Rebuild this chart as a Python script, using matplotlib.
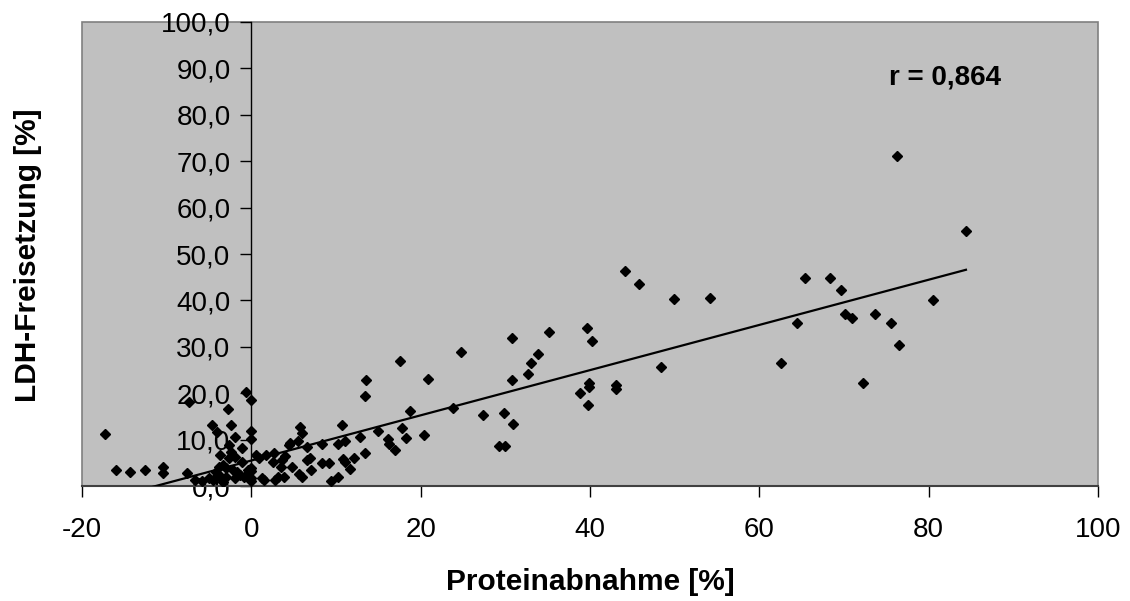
import numpy as np
import matplotlib.pyplot as plt
from matplotlib.ticker import FuncFormatter

plt.rcParams['font.family'] = ['Liberation Sans', 'DejaVu Sans']
plt.rcParams['axes.unicode_minus'] = False

# Protein decrease [%] vs. LDH release [%]
protein = [84.4, 80.5, 76.2, 76.5, 75.6, 73.6, 72.2, 71.0, 70.1, 69.7, 68.3, 65.4,
           64.4, 62.5, 54.2, 49.9, 48.4, 45.8, 44.1, 43.1, 43.1, 40.2, 39.9, 39.9,
           39.8, 39.6, 38.8, 35.2, 33.8, 33.0, 32.7, 30.8, 30.8, 30.9, 30.0, 29.2,
           29.8, 27.4, 24.8, 23.8, 20.9, 20.4, 18.7, 18.3, 17.8, 17.6, 17.0, 16.3,
           16.1, 15.0, 13.5, 13.4, 13.4, 12.8, 12.1, 11.7, 11.0, 11.0, 10.8, 10.7,
           10.2, 10.2, 9.4, 9.2, 8.4, 8.4, 7.1, 6.9, 6.6, 6.6, 6.0, 6.0,
           5.7, 5.6, 5.5, 4.8, 4.6, 4.4, 4.0, 3.9, 3.6, 3.5, 3.1, 2.8,
           2.7, 2.5, 1.7, 1.5, 1.2, 0.9, 0.5, 0.0, 0.0, 0.0, 0.0, 0.0,
           0.0, -0.1, -0.4, -0.6, -0.9, -1.1, -1.1, -1.3, -1.7, -1.9, -1.9, -1.9,
           -2.2, -2.4, -2.4, -2.6, -2.6, -2.8, -3.0, -3.0, -3.4, -3.4, -3.6, -3.7,
           -3.8, -4.1, -4.2, -4.5, -4.7, -5.0, -5.8, -6.6, -7.4, -7.6, -10.4, -10.4,
           -12.6, -14.3, -16.0, -17.3]
ldh = [55.0, 40.0, 71.2, 30.4, 35.2, 37.0, 22.1, 36.2, 37.0, 42.3, 44.8, 44.8,
       35.2, 26.6, 40.5, 40.3, 25.6, 43.5, 46.3, 21.7, 21.0, 31.2, 22.1, 21.3,
       17.5, 34.0, 20.0, 33.3, 28.4, 26.6, 24.1, 32.0, 22.8, 13.4, 8.6, 8.6,
       15.8, 15.2, 28.9, 16.8, 23.1, 11.1, 16.2, 10.4, 12.4, 26.9, 7.7, 9.1,
       10.2, 11.9, 22.8, 19.5, 7.1, 10.6, 6.0, 3.6, 9.7, 5.2, 5.8, 13.1,
       9.0, 2.0, 1.1, 4.9, 9.0, 5.0, 3.4, 6.1, 8.5, 5.6, 11.4, 2.0,
       12.8, 2.5, 9.7, 4.0, 9.3, 8.8, 6.5, 2.0, 5.6, 4.2, 2.0, 1.3,
       7.2, 5.2, 6.7, 1.3, 1.7, 6.0, 6.7, 18.5, 11.9, 10.2, 3.9, 3.2,
       1.7, 1.0, 3.4, 20.3, 2.0, 8.1, 5.2, 2.4, 3.1, 10.5, 6.3, 1.7,
       3.4, 13.1, 7.4, 8.8, 6.0, 16.7, 3.8, 2.0, 4.5, 0.9, 2.0, 6.7,
       4.2, 11.7, 3.1, 1.3, 13.1, 1.7, 1.1, 1.4, 18.1, 2.9, 4.2, 2.9,
       3.4, 3.1, 3.4, 11.2]

# linear trend line (as drawn in the original chart)
trend_slope = 0.487
trend_intercept = 5.5
r_text = 'r = 0,864'

x_ticks = [-20, 0, 20, 40, 60, 80, 100]
y_ticks = [0, 10, 20, 30, 40, 50, 60, 70, 80, 90, 100]

fig = plt.figure(figsize=(11.3, 6.01), dpi=100)
ax = fig.add_axes([0.0726, 0.1913, 0.8991, 0.7721])

ax.set_facecolor('#c0c0c0')
ax.patch.set_edgecolor('#808080')
ax.patch.set_linewidth(1.2)

ax.plot(protein, ldh, 'D', color='black', markersize=5, zorder=3)

xs = np.array([min(protein), max(protein)])
ax.plot(xs, trend_slope * xs + trend_intercept, '-', color='black', linewidth=1.6, zorder=4)

ax.set_xlim(-20, 100)
ax.set_ylim(0, 100)
ax.set_xticks(x_ticks)
ax.set_yticks(y_ticks)
ax.yaxis.set_major_formatter(FuncFormatter(lambda v, p: f'{v:.1f}'.replace('.', ',')))

ax.spines['left'].set_position(('data', 0))
ax.spines['left'].set_color('black')
ax.spines['left'].set_linewidth(1.0)
ax.spines['bottom'].set_color('#404040')
ax.spines['bottom'].set_linewidth(1.5)
ax.spines['top'].set_visible(False)
ax.spines['right'].set_visible(False)

ax.tick_params(axis='y', direction='out', length=8, width=1, pad=7, labelsize=20)
ax.tick_params(axis='x', direction='out', length=8, width=1, pad=14, labelsize=20)

ax.text(0.849, 0.881, r_text, transform=ax.transAxes, ha='center', va='center',
        fontsize=20, fontweight='bold')

fig.text(0.522, 0.032, 'Proteinabnahme [%]', ha='center', va='center',
         fontsize=21.5, fontweight='bold')
fig.text(0.025, 0.576, 'LDH-Freisetzung [%]', ha='center', va='center',
         rotation=90, fontsize=21.5, fontweight='bold')

fig.savefig('out.png', dpi=100)
